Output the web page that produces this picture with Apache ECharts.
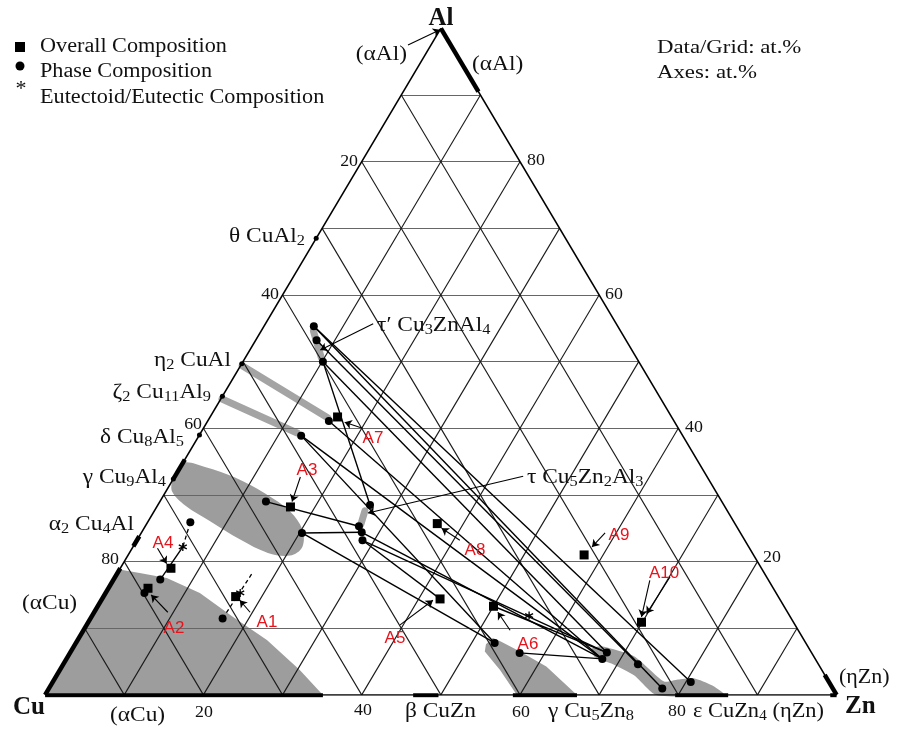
<!DOCTYPE html>
<html><head><meta charset="utf-8">
<script src="https://cdn.jsdelivr.net/npm/echarts@6/dist/echarts.min.js"></script>
<style>html,body{margin:0;padding:0;background:#fff}#c{width:901px;height:729px}</style>
</head><body><div id="c"></div>
<script>
// All compositions are [Zn, Al] in at.% (Cu = 100 - Zn - Al)
const gridTicks = [10, 20, 30, 40, 50, 60, 70, 80, 90];
const bottomTickLabels = ['20', '40', '60', '80'];   // Zn
const leftTickLabels = ['80', '60', '40', '20'];     // Cu
const rightTickLabels = ['20', '40', '60', '80'];    // Al

const phaseDots = [
  [6.3, 55.3], [7.7, 53.2], [10.1, 50.0],
  [15.3, 41.1], [12.9, 38.9], [13.4, 29.0], [20.3, 24.3],
  [26.8, 28.5], [27.0, 25.3], [27.8, 24.4], [28.5, 23.2],
  [52.9, 7.8], [56.8, 6.3], [67.8, 6.35], [67.7, 5.4], [72.6, 4.6], [77.5, 0.95], [80.6, 1.95],
  [5.4, 25.9], [5.9, 17.3], [4.9, 15.3], [16.7, 11.45]
];
const overallSquares = [
  [16.7, 14.75], [5.0, 16.0], [16.9, 28.2], [6.4, 19.0], [42.7, 14.4],
  [50.0, 13.3], [16.1, 41.7], [36.7, 25.7], [57.6, 21.0], [69.9, 10.9]
];
const eutecticPts = [[17.0, 15.3], [6.3, 22.2], [55.2, 11.9]];
const compoundDots = [[0, 68.5], [0, 49.7], [0, 44.8], [0, 39.0], [0, 32.4]];

const tieLines = [
  [[6.3, 55.3], [80.6, 1.95]], [[6.3, 55.3], [77.5, 0.95]],
  [[7.7, 53.2], [72.6, 4.6]], [[10.1, 50.0], [67.8, 6.35]],
  [[10.1, 50.0], [26.8, 28.5]], [[15.3, 41.1], [67.7, 5.4]],
  [[12.9, 38.9], [52.9, 7.8]], [[12.9, 38.9], [67.7, 5.4]],
  [[13.4, 29.0], [27.0, 25.3]], [[20.3, 24.3], [27.8, 24.4]],
  [[20.3, 24.3], [52.9, 7.8]], [[28.5, 23.2], [67.8, 6.35]],
  [[27.8, 24.4], [67.7, 5.4]], [[28.5, 23.2], [42.7, 14.4]],
  [[56.8, 6.3], [67.7, 5.4]], [[50.0, 13.3], [67.8, 6.35]],
  [[6.3, 22.2], [5.9, 17.3]]
];
const dashedLines = [
  [[16.7, 11.45], [17.05, 18.45]], [[5.4, 25.9], [6.3, 22.2]]
];
const labelArrows = [
  [[-2.9, 97.5], [0, 99.8]],      // (αAl)
  [[13.6, 55.7], [8.9, 51.75]],   // τ'
  [[44.0, 32.8], [27.15, 27.3]],  // τ
  [[19.7, 12.4], [17.5, 14.2]],   // A1
  [[9.3, 12.4], [5.9, 15.0]],     // A2
  [[15.9, 32.7], [16.7, 29.0]],   // A3
  [[3.2, 22.0], [5.5, 19.7]],     // A4
  [[39.6, 10.5], [41.9, 14.2]],   // A5
  [[53.9, 9.7], [51.0, 12.4]],    // A6
  [[20.1, 40.0], [17.4, 40.9]],   // A7
  [[40.8, 23.2], [37.6, 25.0]],   // A8
  [[58.6, 24.3], [58.0, 22.2]],   // A9
  [[67.8, 17.2], [69.5, 11.7]],   // A10
  [[70.1, 17.7], [69.9, 12.2]]    // A10
];
const thickSegments = [
  [[0, 0], [0, 19.0]], [[0, 22.3], [0, 23.8]], [[0, 32.5], [0, 35.3]],
  [[0, 100], [9.5, 90.5]],
  [[0, 0], [35.1, 0]], [[46.5, 0], [49.7, 0]], [[59.1, 0], [67.2, 0]], [[79.6, 0], [86.3, 0]],
  [[100, 0], [97, 3]], [[99.2, 0], [100, 0]]
];
const grayBands = [
  [[0.2, 49.4], [14.9, 41.6]],
  [[0.15, 44.4], [12.2, 39.3]],
  [[6.6, 54.6], [9.6, 50.6]],
  [[26.6, 27.6], [27.1, 25.6]]
];
const alphaCuRegion = [[0, 0], [35.1, 0], [30.3, 3.75], [23.9, 8.25], [17.9, 11.7], [11.9, 15.3], [6.6, 17.55], [2.8, 18.3], [0, 18.8]];
const gammaAlRegion = [[0, 34.8], [3.1, 34.2], [7.7, 32.6], [12.7, 30.2], [17.2, 27.5], [20.1, 24.8], [21.4, 22.2], [20.5, 20.9], [17.5, 21.3], [13.0, 23.3], [7.9, 26.0], [3.5, 28.4], [0.8, 30.5], [0, 32.3]];
const gammaZnRegion = [[52.3, 8.55], [53.4, 8.1], [56.75, 6.5], [61.2, 4.25], [67.2, 0], [59.6, 0], [55.6, 3.75], [52.3, 6.5], [51.9, 7.6]];
const epsRegion = [[65.6, 6.9], [66.6, 7.3], [71.5, 5.8], [77.2, 2.0], [78.8, 2.3], [80.7, 2.5], [83.6, 1.4], [85.8, 0], [77.2, 0], [73.0, 2.9], [69.2, 4.7], [66.6, 5.7]];

const toXY = p => [p[0] + p[1] / 2, p[1]];

const gridSegs = [];
gridTicks.forEach(t => {
  gridSegs.push({k: 'h', c: [[0, t], [100 - t, t]]});        // Al = t
  gridSegs.push({k: 'd', c: [[t, 0], [t, 100 - t]]});        // Zn = t
  gridSegs.push({k: 'd', c: [[100 - t, 0], [0, 100 - t]]});  // Cu = t
});
const outline = [[[0, 0], [100, 0]], [[100, 0], [0, 100]], [[0, 100], [0, 0]]];

const segData = arr => arr.map(s => ({coords: s.map(toXY)}));
const polys = [
  {pts: alphaCuRegion, smooth: 0}, {pts: gammaAlRegion, smooth: 0.35},
  {pts: gammaZnRegion, smooth: 0}, {pts: epsRegion, smooth: 0.2}
];

const SERIF = 'Liberation Serif';
function rich(str) { return str.replace(/_(\d+)/g, (m, d) => '{s|' + d + '}'); }
function txt(text, x, y, align, size, opt) {
  opt = opt || {};
  const sub = Math.round(size * 0.7);
  return {
    type: 'text', x: x, y: y, silent: true, z: 100, scaleX: opt.sx || 1,
    style: {
      text: rich(text), fontFamily: opt.family || SERIF, fontSize: size,
      fontWeight: opt.bold ? 'bold' : 'normal', fill: opt.color || '#111',
      align: align, verticalAlign: 'middle', lineHeight: size + 3,
      rich: {s: {fontFamily: SERIF, fontSize: sub, verticalAlign: 'bottom', lineHeight: sub}}
    }
  };
}
const textLayout = [
  ['Overall Composition', 40, 47, 'left', 20, 1.11], ['Phase Composition', 40, 72, 'left', 20, 1.11],
  ['Eutectoid/Eutectic Composition', 40, 98, 'left', 20, 1.11], ['*', 21, 89, 'center', 22, 1],
  ['Data/Grid: at.%', 657, 48, 'left', 19, 1.2], ['Axes: at.%', 657, 73, 'left', 19, 1.2],
  ['(αAl)', 407, 55, 'right', 20, 1.17], ['(αAl)', 472, 65, 'left', 20, 1.17],
  ['(αCu)', 22, 604, 'left', 20, 1.17], ['(αCu)', 110, 716, 'left', 20, 1.17],
  ['β CuZn', 405, 712, 'left', 20, 1.17], ['γ Cu_5Zn_8', 548, 712, 'left', 20, 1.17],
  ['ε CuZn_4 (ηZn)', 693, 712, 'left', 20, 1.12], ['(ηZn)', 839, 678, 'left', 20, 1.1],
  ['θ CuAl_2', 305, 237, 'right', 20, 1.17], ['η_2 CuAl', 231, 361, 'right', 20, 1.17],
  ['ζ_2 Cu_11Al_9', 211, 393, 'right', 20, 1.17], ['δ Cu_8Al_5', 184, 438, 'right', 20, 1.17],
  ['γ Cu_9Al_4', 166, 478, 'right', 20, 1.17], ['α_2 Cu_4Al', 134, 525, 'right', 20, 1.17],
  ['τ′ Cu_3ZnAl_4', 377, 326, 'left', 20, 1.17], ['τ Cu_5Zn_2Al_3', 527, 478, 'left', 20, 1.17]
];
const tickLayout = [
  [bottomTickLabels[0], 204, 713, 'center'], [bottomTickLabels[1], 363, 711, 'center'],
  [bottomTickLabels[2], 521, 713, 'center'], [bottomTickLabels[3], 677, 712, 'center'],
  [leftTickLabels[0], 119, 560, 'right'], [leftTickLabels[1], 202, 425, 'right'],
  [leftTickLabels[2], 279, 295, 'right'], [leftTickLabels[3], 358, 162, 'right'],
  [rightTickLabels[0], 763, 558, 'left'], [rightTickLabels[1], 685, 428, 'left'],
  [rightTickLabels[2], 605, 295, 'left'], [rightTickLabels[3], 527, 161, 'left']
];
const aLabels = [
  ['A1', 267, 622], ['A2', 174, 628], ['A3', 307, 470], ['A4', 163, 543], ['A5', 395, 638],
  ['A6', 528, 644], ['A7', 373, 438], ['A8', 475, 550], ['A9', 619, 535], ['A10', 664, 573]
];

const graphic = [
  {type: 'rect', shape: {x: 15, y: 42, width: 10, height: 10}, style: {fill: '#000'}, silent: true},
  {type: 'circle', shape: {cx: 20, cy: 66, r: 4.5}, style: {fill: '#000'}, silent: true},
  txt('Al', 441, 19, 'center', 25, {bold: true}),
  txt('Cu', 13, 708, 'left', 25, {bold: true}),
  txt('Zn', 845, 707, 'left', 25, {bold: true})
];
textLayout.forEach(t => graphic.push(txt(t[0], t[1], t[2], t[3], t[4], {sx: t[5]})));
tickLayout.forEach(t => graphic.push(txt(t[0], t[1], t[2], t[3], 17, {sx: 1.05})));
aLabels.forEach(t => graphic.push(txt(t[0], t[1], t[2], 'center', 17, {family: 'Liberation Sans', color: '#e8141c'})));

const chart = echarts.init(document.getElementById('c'), null, {renderer: 'canvas'});
chart.setOption({
  animation: false,
  backgroundColor: '#fff',
  grid: {left: 45.1, right: 64.4, top: 28.4, bottom: 34.1},
  xAxis: {type: 'value', min: 0, max: 100, show: false},
  yAxis: {type: 'value', min: 0, max: 100, show: false},
  graphic: graphic,
  series: [
    {
      type: 'custom', z: 1, silent: true,
      data: polys.map(p => toXY(p.pts[0])),
      renderItem: (params, api) => {
        const p = polys[params.dataIndex];
        return {type: 'polygon', shape: {points: p.pts.map(q => api.coord(toXY(q))), smooth: p.smooth},
          style: {fill: '#9d9d9d'}};
      }
    },
    {type: 'lines', coordinateSystem: 'cartesian2d', z: 2, silent: true,
      lineStyle: {color: '#a4a4a4', width: 7, opacity: 1, cap: 'round'}, data: segData(grayBands)},
    {type: 'lines', coordinateSystem: 'cartesian2d', z: 3, silent: true,
      lineStyle: {color: '#666', width: 1.1, opacity: 1}, data: segData(gridSegs.filter(s => s.k === 'h').map(s => s.c))},
    {type: 'lines', coordinateSystem: 'cartesian2d', z: 3, silent: true,
      lineStyle: {color: '#1a1a1a', width: 1.1, opacity: 1}, data: segData(gridSegs.filter(s => s.k === 'd').map(s => s.c))},
    {type: 'lines', coordinateSystem: 'cartesian2d', z: 4, silent: true,
      lineStyle: {color: '#000', width: 1.6, opacity: 1}, data: segData(outline)},
    {type: 'lines', coordinateSystem: 'cartesian2d', z: 5, silent: true,
      lineStyle: {color: '#000', width: 4.5, opacity: 1}, data: segData(thickSegments)},
    {type: 'lines', coordinateSystem: 'cartesian2d', z: 6, silent: true,
      lineStyle: {color: '#000', width: 1.4, opacity: 1}, data: segData(tieLines)},
    {type: 'lines', coordinateSystem: 'cartesian2d', z: 6, silent: true,
      lineStyle: {color: '#000', width: 1.3, opacity: 1, type: [4, 3]}, data: segData(dashedLines)},
    {type: 'lines', coordinateSystem: 'cartesian2d', z: 6, silent: true,
      symbol: ['none', 'arrow'], symbolSize: 7,
      lineStyle: {color: '#000', width: 1.1, opacity: 1}, data: segData(labelArrows)},
    {type: 'scatter', z: 7, silent: true, symbol: 'circle', symbolSize: 8,
      itemStyle: {color: '#000', opacity: 1}, data: phaseDots.map(toXY)},
    {type: 'scatter', z: 7, silent: true, symbol: 'circle', symbolSize: 5,
      itemStyle: {color: '#000', opacity: 1}, data: compoundDots.map(toXY)},
    {type: 'scatter', z: 8, silent: true, symbol: 'rect', symbolSize: 9,
      itemStyle: {color: '#000', opacity: 1}, data: overallSquares.map(toXY)},
    {type: 'scatter', z: 8, silent: true,
      symbol: 'path://M5,0L5,10M0.7,2.5L9.3,7.5M0.7,7.5L9.3,2.5', symbolSize: 8,
      itemStyle: {color: 'rgba(0,0,0,0)', borderColor: '#000', borderWidth: 1.3, opacity: 1},
      data: eutecticPts.map(toXY)}
  ]
});
</script></body></html>
